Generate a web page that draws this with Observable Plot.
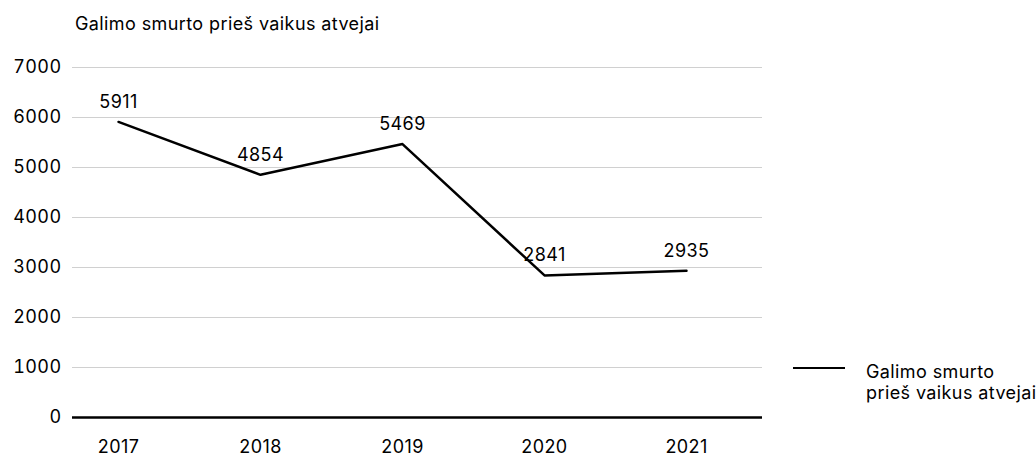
<!DOCTYPE html>
<html>
<head>
<meta charset="utf-8">
<script src="https://cdn.jsdelivr.net/npm/d3@7"></script>
<script src="https://cdn.jsdelivr.net/npm/@observablehq/plot@0.6"></script>
<style>
  html, body { margin: 0; padding: 0; background: #fff; }
  #wrap { position: relative; width: 1036px; height: 457px; font-family: Inter, "Noto Sans", sans-serif; color: #000; letter-spacing: 0.4px; }
  #title { position: absolute; left: 75px; top: 13px; font-size: 18px; line-height: 22px; white-space: nowrap; }
  #legend { position: absolute; left: 793px; top: 361px; display: flex; align-items: flex-start; }
  #legend .swatch { width: 52px; height: 0; border-top: 2.5px solid #000; margin-top: 6px; margin-right: 21px; }
  #legend .lbl { font-size: 18px; line-height: 21px; white-space: nowrap; }
  svg { position: absolute; left: 0; top: 0; }
</style>
</head>
<body>
<div id="wrap">
  <div id="title">Galimo smurto prieš vaikus atvejai</div>
  <div id="legend"><div class="swatch"></div><div class="lbl">Galimo smurto<br>prieš vaikus atvejai</div></div>
</div>
<script>
const years = ["2017", "2018", "2019", "2020", "2021"];
const values = [5911, 4854, 5469, 2841, 2935];
const yTicks = [0, 1000, 2000, 3000, 4000, 5000, 6000, 7000];

const data = years.map((y, i) => ({year: y, value: values[i]}));

const chart = Plot.plot({
  width: 1036,
  height: 457,
  marginLeft: 72,
  marginRight: 274,
  marginTop: 67,
  marginBottom: 40,
  style: {fontFamily: "Inter, 'Noto Sans', sans-serif", fontSize: "18px", color: "#000", background: "transparent", letterSpacing: "0.4px"},
  x: {type: "point", domain: years, range: [117, 686], padding: 0},
  y: {domain: [0, 7000]},
  marks: [
    Plot.ruleY(yTicks.filter(d => d > 0), {stroke: "#d0d0d0", strokeWidth: 1}),
    Plot.ruleY([0], {stroke: "#000", strokeWidth: 2.5}),
    Plot.line(data, {x: "year", y: "value", stroke: "#000", strokeWidth: 2.5}),
    Plot.text(data, {x: "year", y: "value", text: d => String(d.value), dy: -20, fontSize: 18, fill: "#000"}),
    Plot.axisX({tickSize: 0, tickPadding: 23, fontSize: 18, label: null}),
    Plot.axisY({ticks: yTicks, tickSize: 0, tickPadding: 11, fontSize: 18, label: null, tickFormat: d3.format("d")})
  ]
});
document.getElementById("wrap").appendChild(chart);
</script>
</body>
</html>
